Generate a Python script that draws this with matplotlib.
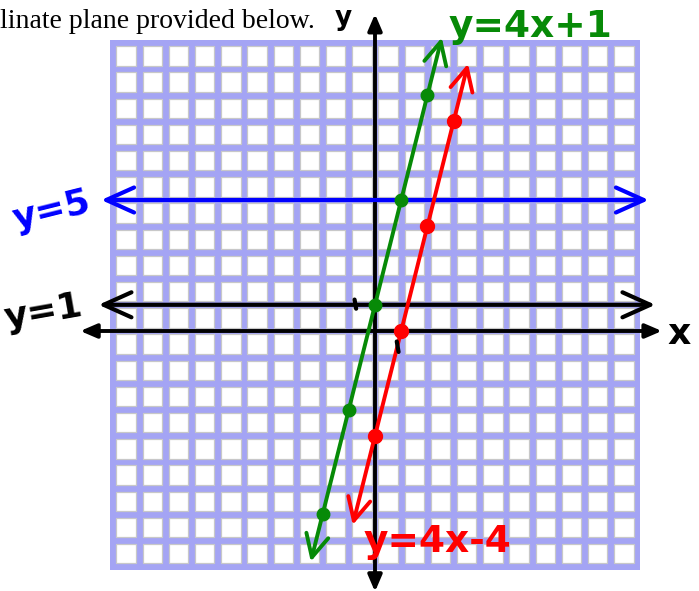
import matplotlib.pyplot as plt
from matplotlib.patches import Rectangle

# graph paper: 20 x 20 squares, x from -10 to 10, y from -9 to 11
grid_x = list(range(-10, 10))
grid_y = list(range(-9, 11))

# plotted points
green_px = [-2, -1, 0, 1, 2]
green_py = [-7, -3, 1, 5, 9]
red_px = [0, 1, 2, 3]
red_py = [-4, 0, 4, 8]

# line end points (arrow tips)
green_line_x = [-2.45, 2.55]
green_line_y = [-8.8, 11.2]
red_line_x = [-0.85, 3.55]
red_line_y = [-7.4, 10.2]
blue_line_x = [-10.45, 10.45]
blue_line_y = [5, 5]
black_line_x = [-10.55, 10.7]
black_line_y = [1, 1]
xaxis_x = [-11.25, 10.95]
yaxis_y = [-9.95, 12.1]

UNIT = 26.2
fig = plt.figure(figsize=(6.99, 5.91), dpi=100)
ax = fig.add_axes([0, 0, 1, 1])
ax.set_xlim(-375 / UNIT, 324 / UNIT)
ax.set_ylim(-260 / UNIT, 331 / UNIT)
ax.axis("off")

lav = "#a4a4f4"
gap = 0.12
ax.add_patch(Rectangle((grid_x[0] - gap, grid_y[0] - gap), len(grid_x) + 2 * gap,
                       len(grid_y) + 2 * gap, facecolor=lav, edgecolor="none", zorder=0))
inset = 0.012
for gx in grid_x:
    for gy in grid_y:
        ax.add_patch(Rectangle((gx + gap + inset, gy + gap + inset), 1 - 2 * (gap + inset),
                               1 - 2 * (gap + inset), facecolor="white", edgecolor="#c8c8c8",
                               lw=0.9, zorder=1))


def arrow(xs, ys, color, style, lw, ms):
    ax.annotate("", xy=(xs[1], ys[1]), xytext=(xs[0], ys[0]),
                arrowprops=dict(arrowstyle=style, color=color, lw=lw, shrinkA=0, shrinkB=0,
                                mutation_scale=ms, capstyle="round", joinstyle="round"),
                zorder=3)


# axes with filled heads
arrow(xaxis_x, [0, 0], "black", "<|-|>,head_length=0.7,head_width=0.3", 2.8, 14)
arrow([0, 0], yaxis_y, "black", "<|-|>,head_length=0.7,head_width=0.3", 2.8, 14)

# horizontal lines with open heads
arrow(black_line_x, black_line_y, "black", "<->,head_length=1.0,head_width=0.45", 3.0, 20)
arrow(blue_line_x, blue_line_y, "#0000ff", "<->,head_length=1.0,head_width=0.45", 3.0, 20)

# slanted lines
arrow(green_line_x, green_line_y, "#078a07", "<->,head_length=0.9,head_width=0.45", 2.8, 18)
arrow(red_line_x, red_line_y, "#ff0000", "<->,head_length=0.9,head_width=0.45", 2.8, 18)

ax.plot(green_px, green_py, "o", color="#078a07", ms=9, zorder=4)
ax.plot(red_px, red_py, "o", color="#ff0000", ms=10, zorder=4)

# little hand tick marks
ax.plot([-0.78, -0.72], [1.2, 0.85], color="black", lw=3, solid_capstyle="round", zorder=3)
ax.plot([0.83, 0.9], [-0.4, -0.8], color="black", lw=3, solid_capstyle="round", zorder=3)

hand = dict(family="DejaVu Sans", fontweight="bold", ha="center", va="center")
ax.text(5.95, 11.6, "y=4x+1", color="#078a07", fontsize=27, **hand)
ax.text(2.4, -8.05, "y=4x-4", color="#ff0000", fontsize=27, **hand)
ax.text(-12.35, 4.6, "y=5", color="#0000ff", fontsize=26, rotation=14, **hand)
ax.text(-12.65, 0.7, "y=1", color="black", fontsize=26, rotation=10, **hand)
ax.text(11.6, -0.1, "x", color="black", fontsize=26, **hand)
ax.text(-1.2, 11.95, "y", color="black", fontsize=19, **hand)

fig.text(0.0, 1 - 28 / 591, "linate plane provided below.", family="Liberation Serif",
         fontsize=20, va="baseline", ha="left")

fig.savefig("out.png", dpi=100)
